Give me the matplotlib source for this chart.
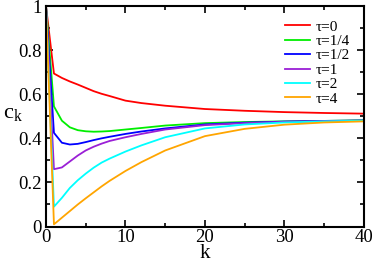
import matplotlib
matplotlib.use('Agg')
import matplotlib.pyplot as plt
from matplotlib.ticker import MultipleLocator

plt.rcParams['font.family'] = ['Liberation Serif', 'DejaVu Serif']
plt.rcParams['mathtext.fontset'] = 'custom'
plt.rcParams['mathtext.rm'] = 'Liberation Serif'
plt.rcParams['mathtext.it'] = 'Liberation Serif'

# k values
k = [0, 1, 2, 3, 4, 5, 6, 7, 8, 10, 12, 15, 20, 25, 30, 35, 40]

c_tau0 = [1.0, 0.694, 0.674, 0.658, 0.644, 0.629, 0.614, 0.602, 0.592, 0.571, 0.560, 0.548, 0.533, 0.525, 0.519, 0.515, 0.512]
c_tau14 = [1.0, 0.545, 0.480, 0.450, 0.437, 0.432, 0.430, 0.431, 0.433, 0.440, 0.447, 0.458, 0.469, 0.474, 0.477, 0.479, 0.482]
c_tau12 = [1.0, 0.425, 0.380, 0.372, 0.375, 0.383, 0.392, 0.400, 0.407, 0.420, 0.431, 0.445, 0.463, 0.471, 0.476, 0.479, 0.481]
c_tau1 = [1.0, 0.260, 0.268, 0.295, 0.322, 0.345, 0.362, 0.376, 0.388, 0.405, 0.420, 0.440, 0.460, 0.469, 0.475, 0.478, 0.480]
c_tau2 = [1.0, 0.090, 0.130, 0.175, 0.210, 0.240, 0.267, 0.290, 0.308, 0.340, 0.368, 0.405, 0.445, 0.463, 0.472, 0.477, 0.480]
c_tau4 = [1.0, 0.010, 0.040, 0.070, 0.100, 0.128, 0.155, 0.182, 0.207, 0.252, 0.292, 0.345, 0.410, 0.443, 0.462, 0.472, 0.477]

labels = [u'τ=0', u'τ=1/4', u'τ=1/2', u'τ=1', u'τ=2', u'τ=4']
colors = ['#ff0000', '#00ee00', '#0000ff', '#9a1fd6', '#00ffff', '#ffa500']
series = [c_tau0, c_tau14, c_tau12, c_tau1, c_tau2, c_tau4]

xticks = [0, 10, 20, 30, 40]
yticks = [0, 0.2, 0.4, 0.6, 0.8, 1]
yticklabels = ['0', '0.2', '0.4', '0.6', '0.8', '1']

fig = plt.figure(figsize=(3.74, 2.64), dpi=100)
ax = fig.add_axes([0.123, 0.142, 0.850, 0.835])

for y, c, lab in zip(series, colors, labels):
    ax.plot(k, y, color=c, lw=1.3, label=lab)

ax.set_xlim(0, 40)
ax.set_ylim(0, 1)
ax.set_xticks(xticks)
ax.set_yticks(yticks)
ax.set_yticklabels(yticklabels)
ax.xaxis.set_minor_locator(MultipleLocator(5))
ax.yaxis.set_minor_locator(MultipleLocator(0.1))
ax.tick_params(which='both', direction='in', top=True, right=True, width=1.2)
ax.tick_params(which='major', length=5, labelsize=13.5)
ax.tick_params(axis='x', which='major', pad=1.5)
ax.tick_params(axis='y', which='major', pad=3)
ax.tick_params(which='minor', length=3)
for s in ax.spines.values():
    s.set_linewidth(1.5)

ax.set_xlabel('k', fontsize=15, labelpad=-1)
ax.set_ylabel(r'c$_{\rm k}$', fontsize=16, rotation=0)
ax.yaxis.set_label_coords(-0.105, 0.47)

ax.legend(loc='upper right', frameon=False, fontsize=11, handlelength=1.6,
          handletextpad=0.4, labelspacing=0.05, borderaxespad=0.5)

fig.savefig('out.png', dpi=100)
